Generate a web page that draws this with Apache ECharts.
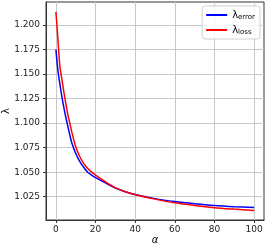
<!DOCTYPE html>
<html><head><meta charset="utf-8">
<script src="https://cdn.jsdelivr.net/npm/echarts@6/dist/echarts.min.js"></script>
<style>html,body{margin:0;padding:0;background:#fff}#c{width:266px;height:246px}</style>
</head><body><div id="c"></div>
<script>
var alphas = [0,1,2,3,4,5,6,7,8,10,12,14,16,18,20,25,30,35,40,50,60,70,80,90,100];
var lambdaError = [1.175,1.154,1.140,1.127,1.116,1.106,1.097,1.088,1.080,1.069,1.061,1.055,1.050,1.047,1.0445,1.039,1.0338,1.030,1.0272,1.023,1.020,1.0178,1.016,1.0148,1.014];
var lambdaLoss = [1.2135,1.186,1.158,1.145,1.132,1.120,1.109,1.100,1.091,1.076,1.066,1.059,1.054,1.050,1.047,1.040,1.034,1.030,1.027,1.0225,1.0187,1.016,1.0138,1.0123,1.011];
var xTicks = [0,20,40,60,80,100];
var yTicks = [1.025,1.050,1.075,1.100,1.125,1.150,1.175,1.200];
var seriesNames = ['error','loss'];

function pairs(xs, ys){ return xs.map(function(x,i){ return [x, ys[i]]; }); }

var chart = echarts.init(document.getElementById('c'), null, {renderer:'canvas'});
var font = 'DejaVu Sans';
chart.setOption({
  animation:false,
  backgroundColor:'#fff',
  grid:{left:46,right:2,top:2,bottom:26,show:true,borderColor:'#333',borderWidth:1,containLabel:false,outerBoundsMode:'none'},
  legend:{
    right:6, top:6, orient:'vertical',
    itemWidth:21, itemHeight:2, itemGap:4,
    icon:'rect',
    padding:[4,5,3,4],
    backgroundColor:'rgba(255,255,255,0.8)',
    borderColor:'#d0d0d0', borderWidth:1, borderRadius:3,
    data:seriesNames,
    formatter:function(n){ return '{l|λ}{s|'+n+'}'; },
    textStyle:{fontFamily:font,color:'#000',rich:{
      l:{fontSize:10,fontFamily:font,color:'#000'},
      s:{fontSize:7,fontFamily:font,color:'#000',padding:[5,0,0,0]}
    }}
  },
  xAxis:{
    type:'value', min:-5, max:105,
    name:'α', nameLocation:'middle', nameGap:15, nameMoveOverlap:false,
    nameTextStyle:{fontFamily:font,fontSize:10,fontStyle:'italic',color:'#000'},
    axisLine:{show:true,onZero:false,lineStyle:{color:'#333',width:1}},
    axisTick:{show:true,length:3,lineStyle:{color:'#333'},customValues:xTicks},
    axisLabel:{fontFamily:font,fontSize:9,color:'#222',margin:5,customValues:xTicks},
    splitLine:{show:true,lineStyle:{color:'#c8c8c8',width:1}}
  },
  yAxis:{
    type:'value', min:1.0012, max:1.2236,
    name:'λ', nameLocation:'middle', nameGap:35, nameRotate:90, nameMoveOverlap:false,
    nameTextStyle:{fontFamily:font,fontSize:10,color:'#000'},
    axisLine:{show:true,onZero:false,lineStyle:{color:'#333',width:1}},
    axisTick:{show:true,length:3,lineStyle:{color:'#333'},customValues:yTicks},
    axisLabel:{fontFamily:font,fontSize:9,color:'#222',margin:6,customValues:yTicks,
      formatter:function(v){return v.toFixed(3);}},
    splitLine:{show:true,lineStyle:{color:'#c8c8c8',width:1}}
  },
  series:[
    {name:'error',type:'line',data:pairs(alphas,lambdaError),smooth:0.3,showSymbol:false,
     lineStyle:{color:'#0000ff',width:1.5},itemStyle:{color:'#0000ff'}},
    {name:'loss',type:'line',data:pairs(alphas,lambdaLoss),smooth:0.3,showSymbol:false,
     lineStyle:{color:'#ff0000',width:1.5},itemStyle:{color:'#ff0000'}}
  ]
});
</script></body></html>
